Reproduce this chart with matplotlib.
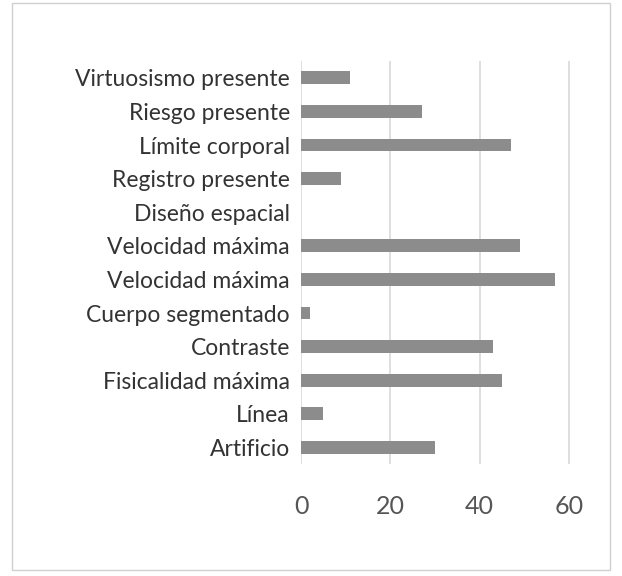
import matplotlib.pyplot as plt
from matplotlib.patches import Rectangle

# ==============================
# Data
# ==============================

categories = [
    "Artificio", "Línea", "Fisicalidad máxima", "Contraste",
    "Cuerpo segmentado", "Velocidad máxima", "Velocidad máxima",
    "Diseño espacial", "Registro presente", "Límite corporal",
    "Riesgo presente", "Virtuosismo presente",
]
values = [30, 5, 45, 43, 2, 57, 49, 0, 9, 47, 27, 11]
xticks = [0, 20, 40, 60]

# ==============================
# Plot
# ==============================

plt.rcParams["font.family"] = ["Lato", "DejaVu Sans"]

fig = plt.figure(figsize=(6.22, 5.76), dpi=100)
ax = fig.add_axes([0.484, 0.194, 0.47, 0.70])

ax.barh(range(len(categories)), values, height=0.38, color="#8c8c8c", zorder=3)

ax.set_yticks(range(len(categories)))
ax.set_yticklabels(categories, fontsize=16.5, color="#333333")
ax.set_ylim(-0.5, len(categories) - 0.5)
ax.set_xlim(0, 65.5)
ax.set_xticks(xticks)
ax.set_xticklabels([str(t) for t in xticks], fontsize=18, color="#555555")
ax.tick_params(length=0, pad=8)
ax.tick_params(axis="x", pad=22)
ax.grid(axis="x", color="#d9d9d9", linewidth=1.2, zorder=0)
for s in ax.spines.values():
    s.set_visible(False)

fig.patches.append(Rectangle((0.02, 0.01), 0.96, 0.985, transform=fig.transFigure,
                             fill=False, edgecolor="#d0d0d0", linewidth=1))

plt.savefig("out.png", dpi=100)
